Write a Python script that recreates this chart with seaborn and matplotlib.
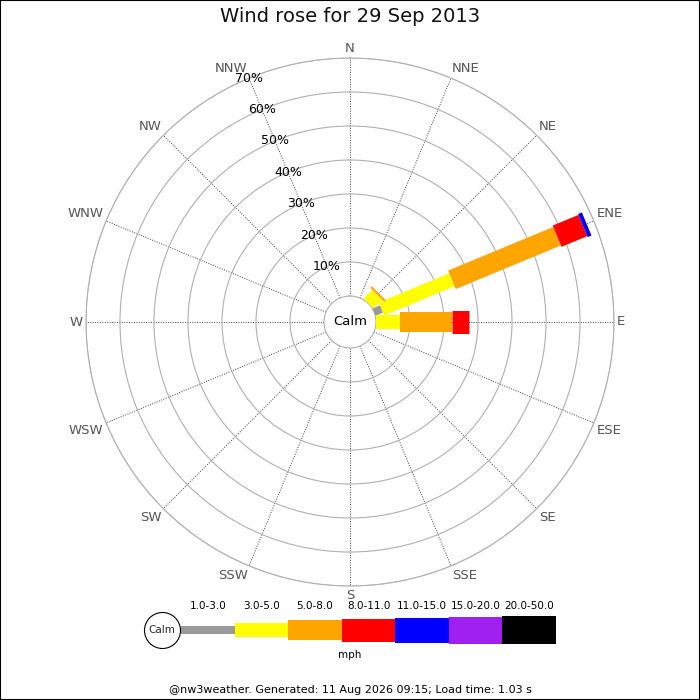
import numpy as np
import matplotlib
matplotlib.use("Agg")
import matplotlib.pyplot as plt
import seaborn as sns

# ---------------- data ----------------
directions = ['N', 'NNE', 'NE', 'ENE', 'E', 'ESE', 'SE', 'SSE',
              'S', 'SSW', 'SW', 'WSW', 'W', 'WNW', 'NW', 'NNW']
speed_ranges = ['1.0-3.0', '3.0-5.0', '5.0-8.0', '8.0-11.0',
                '11.0-15.0', '15.0-20.0', '20.0-50.0']
range_colors = ['#999999', '#ffff00', '#ffa500', '#ff0000',
                '#0000ff', '#a020f0', '#000000']
# percentage of time per speed range, for directions with data
freq_NE = [0.0, 3.7, 0.6, 0.0, 0.0, 0.0, 0.0]
freq_ENE = [2.4, 22.4, 33.5, 8.2, 1.2, 0.0, 0.0]
freq_E = [0.0, 7.1, 15.3, 5.0, 0.0, 0.0, 0.0]
pct_ticks = [10, 20, 30, 40, 50, 60, 70]
title_text = 'Wind rose for 29 Sep 2013'
footer_text = '@nw3weather. Generated: 11 Aug 2026 09:15; Load time: 1.03 s'
units_text = 'mph'

freq = {d: [0.0] * 7 for d in directions}
freq['NE'] = freq_NE
freq['ENE'] = freq_ENE
freq['E'] = freq_E

# ---------------- styling ----------------
sns.set_theme(style='white')
plt.rcParams['font.family'] = ['DejaVu Sans']

leg_widths_px = [8, 14, 20, 23, 25, 27, 28]   # leg widths in pixels
DPI = 100
px2pt = 72.0 / DPI

fig = plt.figure(figsize=(7, 7), dpi=DPI, facecolor='white')

# outer border
fig.patches.append(plt.Rectangle((0, 0), 1, 1, transform=fig.transFigure,
                                 fill=False, edgecolor='black', lw=1.5))

R_px = 264.0
calm_px = 26.0
cx, cy = 350.0, 322.0
rmax = 70.0
rorig = calm_px * rmax / (R_px - calm_px)

ax = fig.add_axes([(cx - R_px) / 700, (700 - cy - R_px) / 700,
                   2 * R_px / 700, 2 * R_px / 700], projection='polar')
ax.set_theta_zero_location('N')
ax.set_theta_direction(-1)
ax.set_ylim(0, rmax)
ax.set_rorigin(-rorig)
ax.set_facecolor('white')

theta = np.deg2rad(np.arange(16) * 22.5)
ax.set_xticks(theta)
ax.set_xticklabels([])
ax.set_yticks(pct_ticks)
ax.set_yticklabels([])
ax.yaxis.grid(True, color='#b0b0b0', lw=0.8, ls='-')
ax.xaxis.grid(True, color='#444444', lw=0.7, ls=(0, (1, 1.5)))
for sp in ax.spines.values():
    sp.set_color('#b0b0b0')
    sp.set_linewidth(0.8)

# legs
for i, d in enumerate(directions):
    start = 0.0
    for k, v in enumerate(freq[d]):
        if v <= 0:
            continue
        ax.plot([theta[i], theta[i]], [start, start + v],
                color=range_colors[k], lw=leg_widths_px[k] * px2pt,
                solid_capstyle='butt', zorder=3 + k)
        start += v

# percent labels along NNW spoke
for p in pct_ticks:
    ax.text(np.deg2rad(-22.5), p, f'{p}%', ha='center', va='center',
            fontsize=9, color='black', zorder=10)

# direction labels
for i, d in enumerate(directions):
    s, c = np.sin(theta[i]), np.cos(theta[i])
    ha = 'left' if s > 0.1 else ('right' if s < -0.1 else 'center')
    va = 'bottom' if c > 0.1 else ('top' if c < -0.1 else 'center')
    ax.annotate(d, xy=(theta[i], rmax), xytext=(3 * s, 3 * c),
                textcoords='offset pixels', ha=ha, va=va,
                fontsize=9.5, color='#555555', annotation_clip=False)

ax.text(0.5, 0.5, 'Calm', transform=ax.transAxes, ha='center', va='center',
        fontsize=9.5, color='black', zorder=12)

fig.text(0.5, 1 - 17 / 700, title_text, ha='center', va='center',
         fontsize=14, color='#111111')

# ---------------- legend ----------------
seg_px = (556 - 181) / 7.0
lax = fig.add_axes([181 / 700, (700 - 630 - 20) / 700, 375 / 700, 40 / 700])
lax.set_xlim(0, 7)
lax.set_ylim(-20, 20)
lax.axis('off')
hts = np.array(leg_widths_px, dtype=float)
lax.bar(np.arange(7), hts, bottom=-hts / 2, width=1.0, align='edge',
        color=range_colors, edgecolor='none')
for k, lab in enumerate(speed_ranges):
    lax.text(k + 0.5, 24, lab, ha='center', va='center', fontsize=7.5,
             color='black', clip_on=False)
lax.scatter([-(181 - 162) / seg_px], [0], s=(36 * px2pt) ** 2,
            facecolor='white', edgecolor='black', lw=0.8, zorder=5,
            clip_on=False)
lax.text(-(181 - 162) / seg_px, 0, 'Calm', ha='center', va='center',
         fontsize=7.5, zorder=6, clip_on=False)
fig.text(0.5, 1 - 655 / 700, units_text, ha='center', va='center',
         fontsize=7.5, color='black')
fig.text(0.5, 1 - 690 / 700, footer_text, ha='center', va='center',
         fontsize=8, color='black')

fig.savefig('out.png', dpi=DPI, facecolor='white')
